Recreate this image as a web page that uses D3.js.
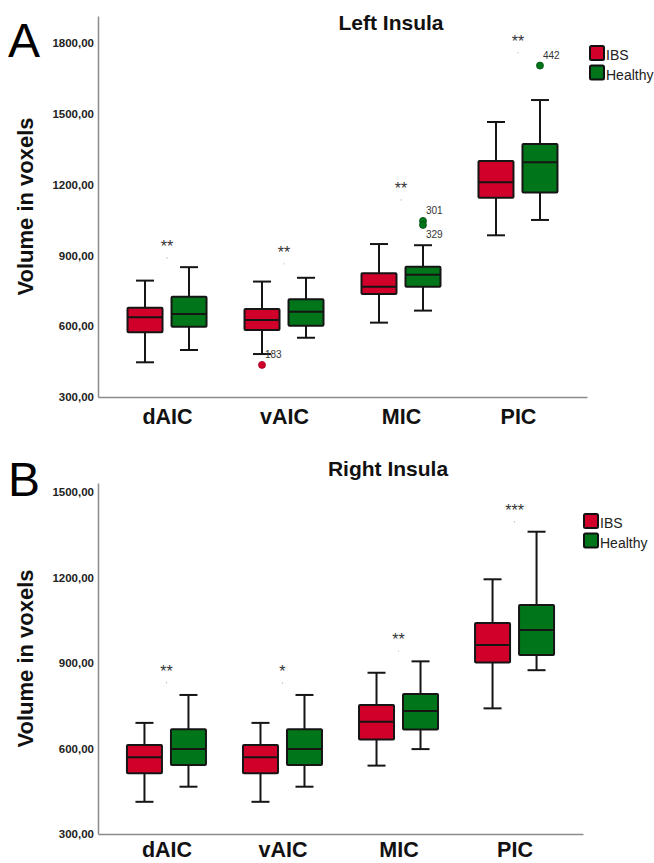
<!DOCTYPE html>
<html>
<head>
<meta charset="utf-8">
<script src="https://cdn.jsdelivr.net/npm/d3@7"></script>
<style>
  html, body { margin: 0; padding: 0; background: #fff; }
  svg { display: block; }
  text { font-family: "Liberation Sans", Arial, sans-serif; }
</style>
</head>
<body>
<svg id="chart" width="654" height="863"></svg>
<script>
// ---------- DATA ----------
const categories = ["dAIC", "vAIC", "MIC", "PIC"];
const groups = ["IBS", "Healthy"];
const groupColors = ["#D0002B", "#007519"];

// [whisker low, Q1, median, Q3, whisker high]
const leftIBS     = [[447, 574, 638, 678, 793], [482, 584, 626, 673, 789], [615, 736, 767, 824, 948], [985, 1144, 1210, 1300, 1465]];
const leftHealthy = [[499, 598, 652, 725, 850], [551, 602, 661, 714, 805], [666, 767, 818, 852, 943], [1050, 1166, 1294, 1372, 1558]];
const rightIBS     = [[413, 513, 569, 612, 690], [413, 513, 569, 612, 690], [540, 632, 694, 753, 866], [741, 902, 963, 1041, 1194]];
const rightHealthy = [[466, 542, 598, 668, 788], [466, 542, 598, 668, 788], [598, 667, 732, 791, 906], [875, 928, 1016, 1104, 1361]];

const leftOutliers = [
  { cat: "vAIC", group: "IBS", value: 436, label: "183", pos: "right" },
  { cat: "MIC", group: "Healthy", value: 1046, label: "301", pos: "above" },
  { cat: "MIC", group: "Healthy", value: 1029, label: "329", pos: "below" },
  { cat: "PIC", group: "Healthy", value: 1704, label: "442", pos: "above" }
];
const rightOutliers = [];

const leftSig = ["**", "**", "**", "**"];
const leftSigValue = [889, 864, 1135, 1758];
const rightSig = ["**", "*", "**", "***"];
const rightSigValue = [831, 830, 942, 1396];

const leftTicks = [300, 600, 900, 1200, 1500, 1800];
const rightTicks = [300, 600, 900, 1200, 1500];

// ---------- DRAW ----------
const svg = d3.select("#chart");
const fmt = v => d3.format(".2f")(v).replace(".", ",");

function drawPanel(p) {
  const g = svg.append("g");
  const y = d3.scaleLinear().domain(p.yDomain).range(p.yRange);
  const x = d3.scalePoint().domain(categories).range([p.x0, p.x1]).padding(0.59);
  const gx = d3.scalePoint().domain(groups).range([-22, 22]);
  const boxW = 35, capW = 18;

  // Panel letter
  g.append("text").attr("x", 8).attr("y", p.letterY)
    .attr("font-family", "Roboto, 'Liberation Sans', sans-serif").attr("font-weight", 300)
    .attr("font-size", 48).attr("fill", "#000").text(p.letter);

  // Title
  g.append("text").attr("x", p.titleX).attr("y", p.titleY).attr("text-anchor", "middle")
    .attr("font-weight", "bold").attr("font-size", 21).attr("fill", "#111").text(p.title);

  // Y axis
  const ya = g.append("g").attr("transform", `translate(${p.x0},0)`)
    .call(d3.axisLeft(y).tickValues(p.ticks).tickSize(0).tickPadding(4).tickFormat(fmt));
  ya.select(".domain").attr("stroke", "#8c8c8c").attr("stroke-width", 1.5);
  ya.selectAll("text").attr("font-family", "'Liberation Sans', Arial, sans-serif")
    .attr("font-weight", "bold").attr("font-size", 11.5).attr("fill", "#222");

  // X axis
  const xa = g.append("g").attr("transform", `translate(0,${p.yRange[0]})`)
    .call(d3.axisBottom(x).tickSize(0).tickPadding(0));
  xa.select(".domain").attr("stroke", "#8c8c8c").attr("stroke-width", 1.5);
  xa.selectAll("text").attr("font-family", "'Liberation Sans', Arial, sans-serif")
    .attr("font-weight", "bold").attr("font-size", 21.5).attr("fill", "#111")
    .attr("dy", null).attr("y", p.catLabelDy);

  // Y axis title
  g.append("text")
    .attr("transform", `translate(33,${(p.yRange[0] + p.yRange[1]) / 2}) rotate(-90)`)
    .attr("text-anchor", "middle").attr("font-weight", "bold").attr("font-size", 22)
    .attr("fill", "#111").text("Volume in voxels");

  // Boxes
  const series = [p.ibs, p.healthy];
  series.forEach((arr, gi) => {
    arr.forEach((s, ci) => {
      const cx = x(categories[ci]) + gx(groups[gi]);
      const [lo, q1, med, q3, hi] = s;
      const bg = g.append("g").attr("stroke", "#151515").attr("stroke-width", 2);
      bg.append("line").attr("x1", cx).attr("x2", cx).attr("y1", y(hi)).attr("y2", y(q3));
      bg.append("line").attr("x1", cx).attr("x2", cx).attr("y1", y(q1)).attr("y2", y(lo));
      bg.append("line").attr("x1", cx - capW / 2).attr("x2", cx + capW / 2).attr("y1", y(hi)).attr("y2", y(hi));
      bg.append("line").attr("x1", cx - capW / 2).attr("x2", cx + capW / 2).attr("y1", y(lo)).attr("y2", y(lo));
      bg.append("rect").attr("x", cx - boxW / 2).attr("y", y(q3)).attr("width", boxW)
        .attr("height", y(q1) - y(q3)).attr("fill", groupColors[gi]).attr("rx", 1);
      bg.append("line").attr("x1", cx - boxW / 2).attr("x2", cx + boxW / 2).attr("y1", y(med)).attr("y2", y(med));
    });
  });

  // Outliers
  p.outliers.forEach(o => {
    const gi = groups.indexOf(o.group);
    const cx = x(o.cat) + gx(o.group);
    const cy = y(o.value);
    g.append("circle").attr("cx", cx).attr("cy", cy).attr("r", 3.5)
      .attr("fill", groupColors[gi]).attr("stroke", gi === 0 ? "#a00020" : "#004d10").attr("stroke-width", 0.8);
    let tx = cx + 3, ty = cy - 8;
    if (o.pos === "right") { tx = cx + 3; ty = cy - 7; }
    if (o.pos === "above") { tx = cx + 3; ty = cy - 7; }
    if (o.pos === "below") { tx = cx + 3; ty = cy + 13; }
    g.append("text").attr("x", tx).attr("y", ty).attr("font-size", 10).attr("fill", "#333").text(o.label);
  });

  // Significance markers
  p.sig.forEach((s, i) => {
    const cx = x(categories[i]);
    const cy = y(p.sigValue[i]);
    g.append("circle").attr("cx", cx).attr("cy", cy).attr("r", 0.7).attr("fill", "#bbb");
    g.append("text").attr("x", cx).attr("y", cy - 6).attr("text-anchor", "middle")
      .attr("font-size", 16).attr("fill", "#333").text(s);
  });

  // Legend
  groups.forEach((gr, gi) => {
    const ly = p.legendY + gi * 19.5;
    g.append("rect").attr("x", p.legendX).attr("y", ly).attr("width", 14).attr("height", 14)
      .attr("rx", 1.5).attr("fill", groupColors[gi]).attr("stroke", "#111").attr("stroke-width", 2);
    g.append("text").attr("x", p.legendX + 16).attr("y", ly + 14).attr("font-size", 14)
      .attr("fill", "#222").text(gr);
  });
}

drawPanel({
  letter: "A", letterY: 57, title: "Left Insula", titleX: 391, titleY: 30,
  yDomain: [300, 1914], yRange: [397, 16], x0: 98, x1: 587,
  ticks: leftTicks, ibs: leftIBS, healthy: leftHealthy, outliers: leftOutliers,
  sig: leftSig, sigValue: leftSigValue, legendX: 590, legendY: 46, catLabelDy: 27
});
drawPanel({
  letter: "B", letterY: 496, title: "Right Insula", titleX: 388, titleY: 476,
  yDomain: [300, 1532], yRange: [834, 483], x0: 98, x1: 583,
  ticks: rightTicks, ibs: rightIBS, healthy: rightHealthy, outliers: rightOutliers,
  sig: rightSig, sigValue: rightSigValue, legendX: 584, legendY: 514, catLabelDy: 23
});
</script>
</body>
</html>
